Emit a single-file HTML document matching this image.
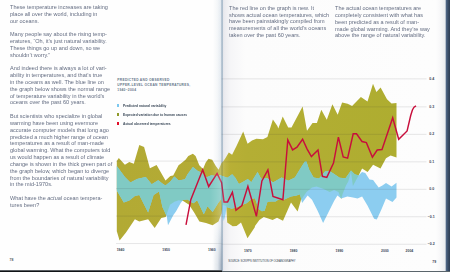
<!DOCTYPE html>
<html><head><meta charset="utf-8"><style>
html,body{margin:0;padding:0;}
body{width:450px;height:272px;overflow:hidden;position:relative;background:#fff;font-family:"Liberation Sans",sans-serif;}
#bg{position:absolute;left:0;top:0;width:450px;height:272px;
background:linear-gradient(90deg,#fefefe 0px,#fefefe 213px,#f1f4f7 218px,#e4eaf0 220.8px,#cad6e0 221.4px,#c4d2de 222.6px,#e2e3e8 223.2px,#ebebef 225px,#f5f5f7 230px,#fcfcfc 245px,#fdfdfd 436px,#f6f6f8 441px,#eceef1 444.6px,#b8c2ce 445.5px,#4e6686 446.2px,#3a4e68 448px,#2c3c52 450px);}
.txt{position:absolute;font-size:6.2px;line-height:6.83px;color:#646d82;white-space:nowrap;transform:scaleX(0.895);transform-origin:0 0;}
svg{position:absolute;left:0;top:0;}
.yl{position:absolute;font-size:3.6px;line-height:4.4px;color:#3a4658;font-weight:bold;white-space:nowrap;}
.xl{position:absolute;font-size:3.45px;line-height:4px;color:#3a4658;font-weight:bold;white-space:nowrap;}
.ttl{position:absolute;left:117.3px;top:77.5px;font-size:3.25px;line-height:4.85px;letter-spacing:0.3px;font-weight:bold;color:#66768a;white-space:nowrap;}
.lg{position:absolute;left:123px;font-size:3.6px;line-height:4px;font-weight:bold;color:#3a4858;transform:scaleX(0.92);transform-origin:0 0;white-space:nowrap;}
.sq{position:absolute;left:116.7px;width:2.8px;height:2.7px;}
#gut{position:absolute;left:210px;top:0;width:20px;height:272px;background:linear-gradient(90deg,rgba(255,255,255,0) 0px,rgba(255,255,255,0.12) 7px,rgba(230,236,242,0.25) 10.8px,rgba(110,135,160,0.24) 11.6px,rgba(100,125,150,0.24) 12.8px,rgba(255,255,255,0.12) 13.5px,rgba(255,255,255,0.06) 16px,rgba(255,255,255,0) 20px);}
#gutB{position:absolute;left:212px;top:225px;width:11px;height:46px;background:linear-gradient(90deg,rgba(120,140,165,0) 0,rgba(120,140,165,0.18) 6px,rgba(100,120,145,0.45) 9px,rgba(100,120,145,0.3) 10px,rgba(120,140,165,0) 11px);-webkit-mask-image:linear-gradient(180deg,transparent 0,#000 40px);mask-image:linear-gradient(180deg,transparent 0,#000 40px);}
#botL{position:absolute;left:0;top:269.9px;width:222px;height:2.1px;background:linear-gradient(180deg,#b0b4b8 0,#15191d 0.9px,#0c0f12 2.1px);}
#botR{position:absolute;left:222px;top:270.7px;width:228px;height:1.3px;background:linear-gradient(180deg,#a8b0b4 0,#2c3840 0.8px,#202a30 1.3px);}
</style></head><body>
<div id="bg"></div>
<div class="txt" style="left:10.1px;top:3.85px">These temperature increases are taking<br>place all over the world, including in<br>our oceans.<br>&nbsp;<br>Many people say about the rising temp-<br>eratures, “Oh, it’s just natural variability.<br>These things go up and down, so we<br>shouldn’t worry.”<br>&nbsp;<br>And indeed there is always a lot of vari-<br>ability in temperatures, and that’s true<br>in the oceans as well. The blue line on<br>the graph below shows the normal range<br>of temperature variability in the world’s<br>oceans over the past 60 years.<br>&nbsp;<br>But scientists who specialize in global<br>warming have been using evermore<br>accurate computer models that long ago<br>predicted a much higher range of ocean<br>temperatures as a result of man-made<br>global warming. What the computers told<br>us would happen as a result of climate<br>change is shown in the thick green part of<br>the graph below, which began to diverge<br>from the boundaries of natural variability<br>in the mid-1970s.<br>&nbsp;<br>What have the <i>actual</i> ocean tempera-<br>tures been?</div>
<div class="txt" style="left:228.6px;top:4.85px;line-height:6.75px">The red line on the graph is new. It<br>shows actual ocean temperatures, which<br>have been painstakingly compiled from<br>measurements of all the world’s oceans<br>taken over the past 60 years.</div>
<div class="txt" style="left:335.4px;top:5.35px;line-height:6.75px">The actual ocean temperatures are<br>completely consistent with what has<br>been predicted as a result of man-<br>made global warming. And they’re way<br>above the range of natural variability.</div>
<div class="ttl">PREDICTED AND OBSERVED</div><div class="ttl" style="top:82.75px">UPPER-LEVEL OCEAN TEMPERATURES,</div><div class="ttl" style="top:88.0px">1940–2004</div>
<div class="sq" style="top:103.9px;background:#7cc8f0"></div>
<div class="sq" style="top:112.9px;background:#8f9a2a"></div>
<div class="sq" style="top:122.3px;background:#e0102a"></div>
<div class="lg" style="top:103.6px">Predicted natural variability</div>
<div class="lg" style="top:112.9px">Expected variation due to human causes</div>
<div class="lg" style="top:122.3px">Actual observed temperatures</div>
<svg width="450" height="272" viewBox="0 0 450 272">
<defs><clipPath id="gclip"><polygon points="116.8,161 118.8,158 124.9,164.8 129.3,161.9 133.8,163.7 139.3,144.9 144.1,147.1 149.9,168.2 156.6,164.9 165.5,180.4 170.4,176 173.2,175.5 178.7,165 180,164.3 185.5,159.7 188.3,156 192.9,153.8 195.6,156 199.3,165.2 203,168.9 205.7,162.5 208.5,158.8 212.2,159.7 215.8,166.1 218.6,169.8 221.5,163 223.3,161.3 225.5,158 228.8,152.5 232.1,154.7 236.5,145.9 243.2,131.5 247.6,143.7 252,140.4 256.4,138.8 263,139.3 267.4,137.1 272.9,119.4 277.4,126 278.3,128.5 282.7,116.4 288.2,127.4 291.5,127.4 302.6,106.5 307,130.7 312.5,123 316.9,123 321.3,109.8 326.8,119.7 332.4,104.3 337.7,114.7 342.1,102.6 347.6,103.7 352.1,105.9 360.9,97.1 367.5,101.5 373,83.8 376.4,92 380.6,87.6 387,99.3 391.5,103.5 396.5,103 396.5,157.4 390.6,155.5 386,158.3 380.5,168.4 373.1,164.7 367.6,172.1 362.1,168.4 358.6,175.6 352.9,186 351,171.8 348.3,181.5 346,185.5 342.6,194 341.2,199 338.5,192 334.1,189.9 329.7,192 323.1,188.8 316.5,186.5 312,187.6 306.5,192 301,200 297.6,211.5 291,202.4 283,220.7 277,217.8 272.6,220 268.2,218.5 263.8,217 259.4,220 255,225.9 254.8,227.2 247.5,238.3 241,222.6 236.5,226 232.7,226.3 227.2,222.6 226.3,206 222.6,205 221.5,213.5 218.5,221.6 212.6,225.3 206,223.1 199.4,221.6 194.3,212.8 189.1,204.7 183.2,201 178.8,200.3 174.4,201.8 170,204.7 165.7,217 161.3,218.1 154.7,228 148.1,219.2 139.3,221.4 134.9,219.2 126,232.4 119.6,240.5 116.8,231.3"/></clipPath></defs>
<linearGradient id="og" gradientUnits="userSpaceOnUse" x1="116" y1="0" x2="400" y2="0"><stop offset="0" stop-color="#b2aa34"/><stop offset="0.34" stop-color="#b4ab35"/><stop offset="0.38" stop-color="#bab036"/><stop offset="0.46" stop-color="#b4ae34"/><stop offset="1" stop-color="#aead30"/></linearGradient>
<polygon points="116.8,161 118.8,158 124.9,164.8 129.3,161.9 133.8,163.7 139.3,144.9 144.1,147.1 149.9,168.2 156.6,164.9 165.5,180.4 170.4,176 173.2,175.5 178.7,165 180,164.3 185.5,159.7 188.3,156 192.9,153.8 195.6,156 199.3,165.2 203,168.9 205.7,162.5 208.5,158.8 212.2,159.7 215.8,166.1 218.6,169.8 221.5,163 223.3,161.3 225.5,158 228.8,152.5 232.1,154.7 236.5,145.9 243.2,131.5 247.6,143.7 252,140.4 256.4,138.8 263,139.3 267.4,137.1 272.9,119.4 277.4,126 278.3,128.5 282.7,116.4 288.2,127.4 291.5,127.4 302.6,106.5 307,130.7 312.5,123 316.9,123 321.3,109.8 326.8,119.7 332.4,104.3 337.7,114.7 342.1,102.6 347.6,103.7 352.1,105.9 360.9,97.1 367.5,101.5 373,83.8 376.4,92 380.6,87.6 387,99.3 391.5,103.5 396.5,103 396.5,157.4 390.6,155.5 386,158.3 380.5,168.4 373.1,164.7 367.6,172.1 362.1,168.4 358.6,175.6 352.9,186 351,171.8 348.3,181.5 346,185.5 342.6,194 341.2,199 338.5,192 334.1,189.9 329.7,192 323.1,188.8 316.5,186.5 312,187.6 306.5,192 301,200 297.6,211.5 291,202.4 283,220.7 277,217.8 272.6,220 268.2,218.5 263.8,217 259.4,220 255,225.9 254.8,227.2 247.5,238.3 241,222.6 236.5,226 232.7,226.3 227.2,222.6 226.3,206 222.6,205 221.5,213.5 218.5,221.6 212.6,225.3 206,223.1 199.4,221.6 194.3,212.8 189.1,204.7 183.2,201 178.8,200.3 174.4,201.8 170,204.7 165.7,217 161.3,218.1 154.7,228 148.1,219.2 139.3,221.4 134.9,219.2 126,232.4 119.6,240.5 116.8,231.3" fill="url(#og)"/>
<polygon points="116.8,165.9 124.9,176.9 130.4,182.4 137.1,179.1 140,178.2 145.8,177 151.7,184.3 158.2,180.2 162.7,183.7 165.5,185.4 170.4,181.5 174.3,176.6 178.7,180.4 185,179.3 187.4,174.4 192.9,167.1 197.5,170.7 201.1,172.6 206.7,177.2 211.3,175.3 216.8,176.3 220.4,175.3 222.2,176 223.8,176.4 227.3,177.8 232.2,174.2 235.3,177.8 238.9,184 242.4,182.2 247.8,179.1 251.3,182.2 257.6,172 261.1,178.7 267.4,178.2 273,182.6 281.6,177.4 288.2,180.7 294.9,177.4 300.4,168.6 304.7,161.8 306.4,161.6 309.2,169.7 313.6,177.4 319.1,178.5 325,171.6 329.4,170.9 333.8,173.8 339.7,177.7 345.5,178.3 351,170.5 354.7,174.2 358.6,175.4 362,171.9 365.3,173 369.5,179.5 373.1,180 376.8,185 378.7,187.4 382.4,185.5 386,183 391.6,186.4 396.5,182.8 396.5,197.5 392.5,202.1 386,198.4 381.4,209.5 376.8,219.6 374.1,218.7 367.6,205.8 362.1,196.6 357.5,198.4 352.9,197.5 347.4,196.6 341.2,198.5 337.4,195.4 334.1,200.9 328.6,211.9 323.1,223 317.6,210.8 312,199.8 307.6,195.4 302.1,203 300,194.3 296.6,195.4 291,196.5 284.4,199.4 278.5,199.4 275.6,201.6 271.2,201.5 267.5,201.8 264.6,210.8 261.9,211.3 258.6,209.1 255,198.2 252,198.7 246.5,203.3 241.9,205.1 237.3,207 231.8,208.8 226.6,207 225.5,214 223.8,221 222.4,216 221.5,198.8 218.5,202.5 212.6,212.1 207.5,206.2 203.8,214.3 197.2,200.3 193.5,203.2 190.6,201.8 187.6,199.6 183.2,199.8 180.7,203 176.1,211.2 173.4,215 168,225.2 166.8,216.5 162.4,207.1 159.1,191.6 153.6,194.9 148.1,212.6 143.7,203.8 139.3,194.9 134.9,196 129.3,200.4 123.8,202.6 116.8,190.5" fill="#8ccdf0"/>
<polygon points="116.8,165.9 124.9,176.9 130.4,182.4 137.1,179.1 140,178.2 145.8,177 151.7,184.3 158.2,180.2 162.7,183.7 165.5,185.4 170.4,181.5 174.3,176.6 178.7,180.4 185,179.3 187.4,174.4 192.9,167.1 197.5,170.7 201.1,172.6 206.7,177.2 211.3,175.3 216.8,176.3 220.4,175.3 222.2,176 223.8,176.4 227.3,177.8 232.2,174.2 235.3,177.8 238.9,184 242.4,182.2 247.8,179.1 251.3,182.2 257.6,172 261.1,178.7 267.4,178.2 273,182.6 281.6,177.4 288.2,180.7 294.9,177.4 300.4,168.6 304.7,161.8 306.4,161.6 309.2,169.7 313.6,177.4 319.1,178.5 325,171.6 329.4,170.9 333.8,173.8 339.7,177.7 345.5,178.3 351,170.5 354.7,174.2 358.6,175.4 362,171.9 365.3,173 369.5,179.5 373.1,180 376.8,185 378.7,187.4 382.4,185.5 386,183 391.6,186.4 396.5,182.8 396.5,197.5 392.5,202.1 386,198.4 381.4,209.5 376.8,219.6 374.1,218.7 367.6,205.8 362.1,196.6 357.5,198.4 352.9,197.5 347.4,196.6 341.2,198.5 337.4,195.4 334.1,200.9 328.6,211.9 323.1,223 317.6,210.8 312,199.8 307.6,195.4 302.1,203 300,194.3 296.6,195.4 291,196.5 284.4,199.4 278.5,199.4 275.6,201.6 271.2,201.5 267.5,201.8 264.6,210.8 261.9,211.3 258.6,209.1 255,198.2 252,198.7 246.5,203.3 241.9,205.1 237.3,207 231.8,208.8 226.6,207 225.5,214 223.8,221 222.4,216 221.5,198.8 218.5,202.5 212.6,212.1 207.5,206.2 203.8,214.3 197.2,200.3 193.5,203.2 190.6,201.8 187.6,199.6 183.2,199.8 180.7,203 176.1,211.2 173.4,215 168,225.2 166.8,216.5 162.4,207.1 159.1,191.6 153.6,194.9 148.1,212.6 143.7,203.8 139.3,194.9 134.9,196 129.3,200.4 123.8,202.6 116.8,190.5" fill="#80cac4" clip-path="url(#gclip)"/>
<g stroke="rgba(40,40,50,0.13)" stroke-width="0.9"><line x1="221.5" y1="78.88" x2="426.5" y2="78.88"/><line x1="221.5" y1="106.86" x2="426.5" y2="106.86"/><line x1="221.5" y1="134.34" x2="426.5" y2="134.34"/><line x1="116" y1="161.12" x2="221.5" y2="161.12"/><line x1="221.5" y1="161.82" x2="426.5" y2="161.82"/><line x1="116" y1="188.60" x2="221.5" y2="188.60"/><line x1="221.5" y1="189.30" x2="426.5" y2="189.30"/><line x1="116" y1="216.08" x2="221.5" y2="216.08"/><line x1="221.5" y1="216.78" x2="426.5" y2="216.78"/><line x1="116" y1="243.56" x2="221.5" y2="243.56"/><line x1="221.5" y1="244.26" x2="426.5" y2="244.26"/></g>
<polyline points="186,224.8 190.8,199.7 202.7,169.8 208.7,186.5 217.1,173.4 221.6,182.7 224,201.9 227.6,201.9 232.4,192.3 236,210.2 241.9,205.5 247.9,186.3 256.4,216.3 261.9,181 267.9,169.9 273,196.4 282.9,199.7 287.8,139.9 292.6,149.9 297,147.2 302.6,139.3 307,148.8 311.4,156.5 318,149.9 322.4,176.3 326.8,177.4 333.5,163.1 338.4,137.1 343.2,157 347.6,158.1 353.2,133.8 356.5,133.8 362,141.5 366.4,142.6 372.4,157.2 377.2,150 382,149.5 392.7,117.7 398.7,139.3 407.1,130.9 410.7,115.5 412.4,110 414,107.2 416,105.8" fill="none" stroke="#c80f3c" stroke-width="1.45" stroke-linejoin="miter"/>
</svg>
<div id="gut"></div>
<div class="yl" style="left:429.3px;top:77.38px">0.4</div><div class="yl" style="left:429.3px;top:104.86px">0.3</div><div class="yl" style="left:429.3px;top:132.34px">0.2</div><div class="yl" style="left:429.3px;top:159.82px">0.1</div><div class="yl" style="left:429.3px;top:187.30px">0.0</div><div class="yl" style="left:427.6px;top:214.78px">−0.1</div><div class="yl" style="left:427.6px;top:242.26px">−0.2</div>
<div class="xl" style="left:116.7px;top:247.8px">1940</div><div class="xl" style="left:162.3px;top:247.8px">1950</div><div class="xl" style="left:208px;top:247.8px">1960</div><div class="xl" style="left:244px;top:248.8px">1970</div><div class="xl" style="left:289.7px;top:248.8px">1980</div><div class="xl" style="left:335.6px;top:248.8px">1990</div><div class="xl" style="left:381.1px;top:248.8px">2000</div><div class="xl" style="left:405.6px;top:248.8px">2004</div>
<div class="xl" style="left:9.6px;top:257.6px;font-size:3.5px;color:#555d68">78</div>
<div class="xl" style="left:432.2px;top:259.9px;font-size:3.5px">79</div>
<div class="xl" style="left:228.2px;top:260.3px;font-size:2.65px;line-height:3px;letter-spacing:-0.05px;font-weight:normal;color:#2e3a4a">SOURCE: SCRIPPS INSTITUTION OF OCEANOGRAPHY</div>
<div id="gutB"></div><div id="botL"></div><div id="botR"></div>
</body></html>
